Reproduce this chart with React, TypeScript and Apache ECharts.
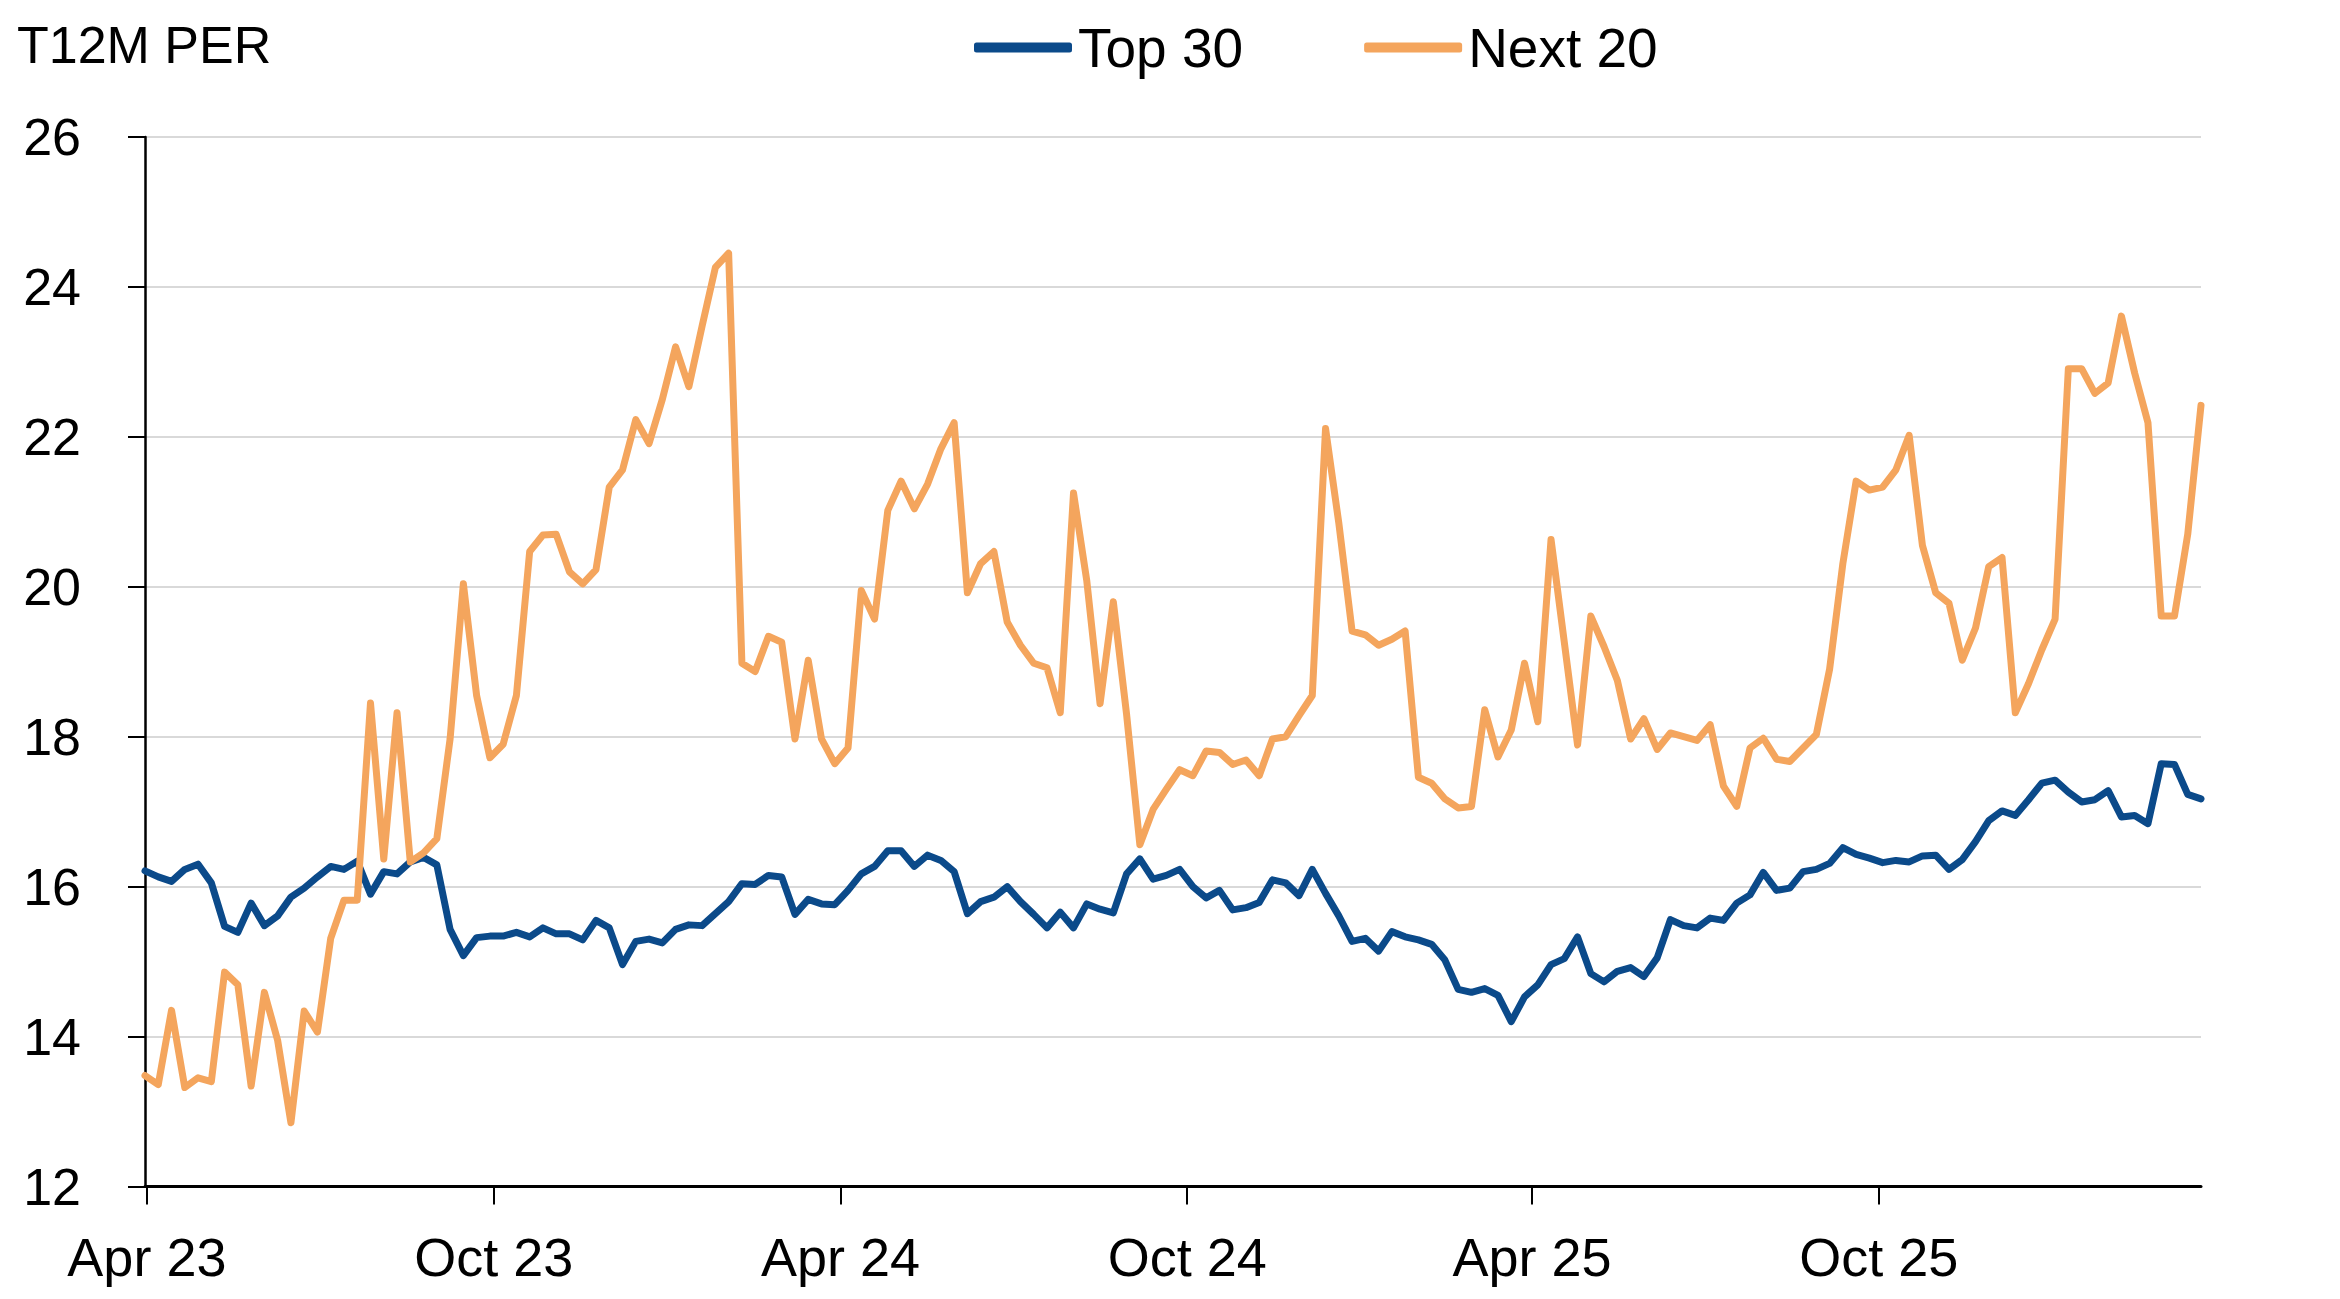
import React, { useEffect, useRef } from "react";
import * as echarts from "echarts";

// Weekly observations starting 31 Mar 2023 (156 weeks)
const top30: number[] = [
  16.21, 16.13, 16.07, 16.23, 16.3, 16.05, 15.47, 15.39, 15.78, 15.48,
  15.61, 15.86, 15.98, 16.13, 16.27, 16.23, 16.34, 15.9, 16.2, 16.17,
  16.33, 16.39, 16.29, 15.43, 15.08, 15.32, 15.34, 15.34, 15.39, 15.33,
  15.45, 15.37, 15.37, 15.29, 15.55, 15.45, 14.96, 15.27, 15.3, 15.25,
  15.43, 15.49, 15.48, 15.64, 15.8, 16.04, 16.03, 16.15, 16.13, 15.63,
  15.83, 15.77, 15.76, 15.95, 16.17, 16.27, 16.48, 16.48, 16.27, 16.42,
  16.35, 16.2, 15.64, 15.8, 15.86, 16.0, 15.8, 15.63, 15.45, 15.66,
  15.45, 15.77, 15.7, 15.65, 16.17, 16.37, 16.1, 16.15, 16.23, 16.0,
  15.85, 15.95, 15.69, 15.72, 15.79, 16.09, 16.05, 15.88, 16.23, 15.91,
  15.61, 15.27, 15.31, 15.14, 15.4, 15.33, 15.29, 15.23, 15.02, 14.63,
  14.59, 14.64, 14.55, 14.2, 14.53, 14.69, 14.96, 15.04, 15.33, 14.84,
  14.73, 14.87, 14.92, 14.8, 15.05, 15.56, 15.48, 15.45, 15.58, 15.55,
  15.78, 15.89, 16.19, 15.95, 15.98, 16.2, 16.23, 16.31, 16.52, 16.43,
  16.38, 16.32, 16.35, 16.33, 16.41, 16.42, 16.23, 16.36, 16.6, 16.88,
  17.01, 16.95, 17.16, 17.38, 17.42, 17.26, 17.13, 17.16, 17.28, 16.93,
  16.95, 16.84, 17.64, 17.63, 17.23, 17.17,
];

const next20: number[] = [
  13.48, 13.36, 14.35, 13.32, 13.45, 13.4, 14.86, 14.69, 13.34, 14.59,
  13.95, 12.85, 14.34, 14.06, 15.31, 15.82, 15.82, 18.45, 16.37, 18.32,
  16.33, 16.45, 16.64, 17.97, 20.04, 18.55, 17.72, 17.9, 18.55, 20.47,
  20.69, 20.7, 20.2, 20.04, 20.23, 21.33, 21.56, 22.23, 21.91, 22.5,
  23.2, 22.67, 23.48, 24.26, 24.45, 18.98, 18.87, 19.34, 19.26, 17.97,
  19.02, 17.97, 17.64, 17.85, 19.95, 19.57, 21.02, 21.41, 21.04, 21.37,
  21.84, 22.19, 19.92, 20.31, 20.47, 19.53, 19.22, 18.98, 18.92, 18.32,
  21.25, 20.08, 18.44, 19.8, 18.3, 16.56, 17.03, 17.3, 17.56, 17.48,
  17.81, 17.79, 17.63, 17.69, 17.48, 17.97, 18.0, 18.28, 18.55, 22.11,
  20.85, 19.41, 19.36, 19.22, 19.3, 19.41, 17.46, 17.38, 17.17, 17.05,
  17.07, 18.36, 17.73, 18.09, 18.98, 18.2, 20.63, 19.26, 17.89, 19.61,
  19.2, 18.75, 17.97, 18.24, 17.83, 18.05, 18.0, 17.95, 18.16, 17.34,
  17.07, 17.85, 17.98, 17.7, 17.67, 17.85, 18.03, 18.9, 20.31, 21.41,
  21.29, 21.33, 21.56, 22.02, 20.55, 19.92, 19.78, 19.02, 19.45, 20.27,
  20.39, 18.32, 18.71, 19.16, 19.57, 22.91, 22.91, 22.58, 22.72, 23.61,
  22.85, 22.19, 19.61, 19.61, 20.7, 22.42,
];

const seriesNames = ["Top 30", "Next 20"];
const tickLabels = ["Apr 23", "Oct 23", "Apr 24", "Oct 24", "Apr 25", "Oct 25"];
const tickDates = [
  Date.UTC(2023, 3, 1),
  Date.UTC(2023, 9, 1),
  Date.UTC(2024, 3, 1),
  Date.UTC(2024, 9, 1),
  Date.UTC(2025, 3, 1),
  Date.UTC(2025, 9, 1),
];
const firstDate = Date.UTC(2023, 2, 31);
const WEEK = 7 * 86400000;
const dates = top30.map((_, i) => firstDate + i * WEEK);

const FONT = "'Liberation Sans', Arial, Helvetica, sans-serif";
const BLUE = "#0B4A8A";
const ORANGE = "#F4A55D";

function labelFor(v: number): string {
  let best = 0;
  for (let i = 0; i < tickDates.length; i++) {
    if (Math.abs(tickDates[i] - v) < Math.abs(tickDates[best] - v)) best = i;
  }
  return tickLabels[best];
}

export default function App() {
  const ref = useRef<HTMLDivElement>(null);
  useEffect(() => {
    if (!ref.current) return;
    const chart = echarts.init(ref.current, undefined, { renderer: "svg" });
    chart.setOption({
      animation: false,
      backgroundColor: "#ffffff",
      textStyle: { fontFamily: FONT },
      title: {
        text: "T12M PER",
        left: 17,
        top: 19,
        padding: 0,
        textStyle: { fontSize: 52, fontWeight: "normal", color: "#000", fontFamily: FONT },
      },
      legend: {
        left: 974,
        top: 20,
        padding: 0,
        itemWidth: 98,
        itemHeight: 10,
        itemGap: 121,
        icon: "roundRect",
        textStyle: { fontSize: 55, color: "#000", fontFamily: FONT, padding: [0, 0, 0, 1] },
        data: seriesNames,
      },
      grid: {
        left: 145,
        right: 139,
        top: 137,
        bottom: 112.5,
        containLabel: false,
        outerBoundsMode: "none",
      },
      xAxis: {
        type: "value",
        min: dates[0],
        max: dates[dates.length - 1],
        scale: true,
        axisLine: { show: true, onZero: false, lineStyle: { color: "#000", width: 3 } },
        axisTick: {
          show: true,
          length: 18,
          lineStyle: { color: "#000", width: 2 },
          customValues: tickDates,
        },
        axisLabel: {
          customValues: tickDates,
          margin: 43,
          fontSize: 54,
          color: "#000",
          fontFamily: FONT,
          formatter: (v: number) => labelFor(v),
        },
        splitLine: { show: false },
      },
      yAxis: {
        type: "value",
        min: 12,
        max: 26,
        interval: 2,
        axisLine: { show: true, lineStyle: { color: "#000", width: 2.5 } },
        axisTick: { show: true, length: 17, lineStyle: { color: "#000", width: 2 } },
        axisLabel: { margin: 64, fontSize: 52, color: "#000", fontFamily: FONT },
        splitLine: { show: true, lineStyle: { color: "#D9D9D9", width: 2 } },
      },
      series: [
        {
          name: seriesNames[0],
          type: "line",
          data: dates.map((d, i) => [d, top30[i]]),
          symbol: "none",
          color: BLUE,
          lineStyle: { color: BLUE, width: 7, cap: "round", join: "round" },
        },
        {
          name: seriesNames[1],
          type: "line",
          data: dates.map((d, i) => [d, next20[i]]),
          symbol: "none",
          color: ORANGE,
          lineStyle: { color: ORANGE, width: 7, cap: "round", join: "round" },
        },
      ],
    });
    return () => chart.dispose();
  }, []);
  return (
    <div
      ref={ref}
      style={{ position: "fixed", left: 0, top: 0, width: 2340, height: 1299, background: "#fff" }}
    />
  );
}
